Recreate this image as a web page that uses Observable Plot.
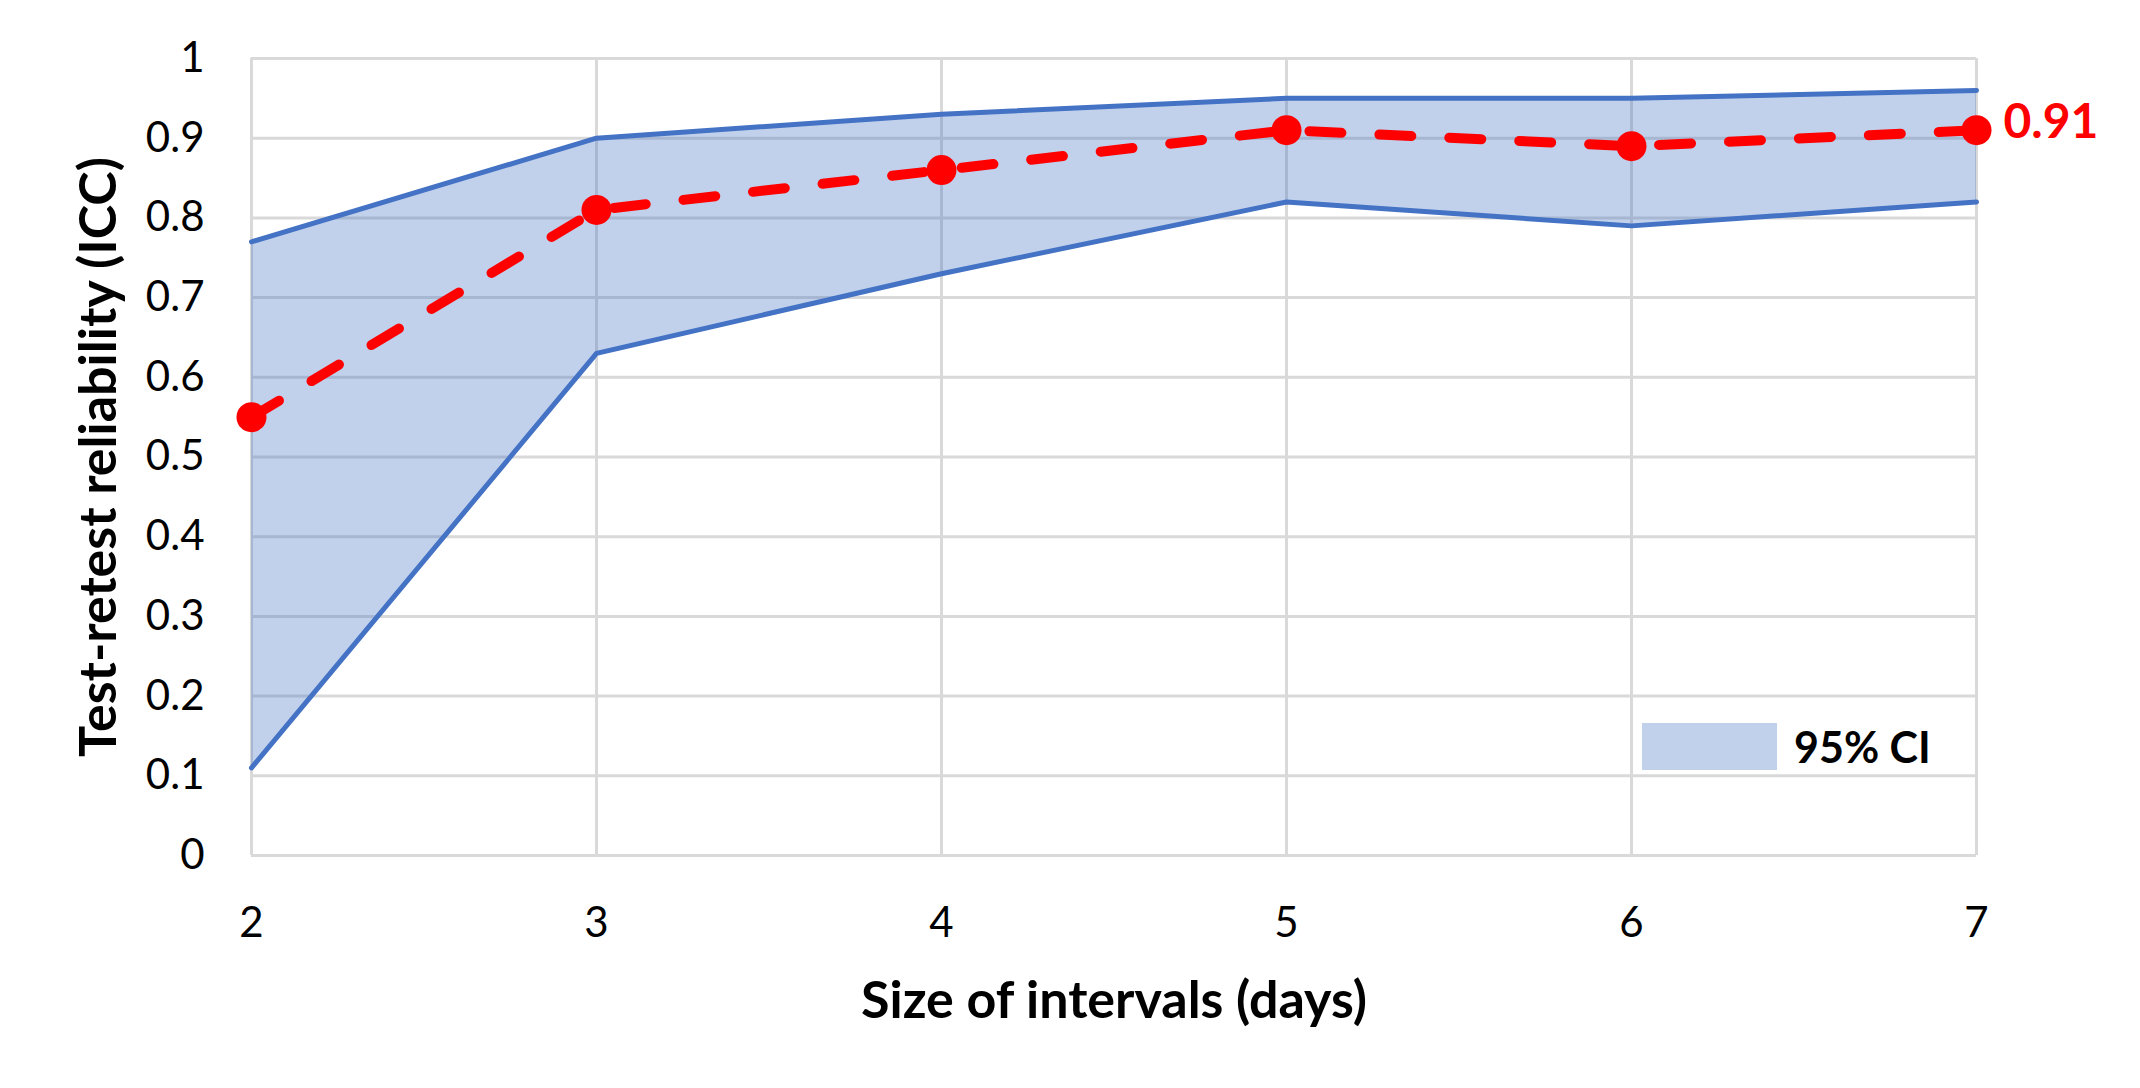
<!DOCTYPE html>
<html>
<head>
<meta charset="utf-8">
<script src="https://cdn.jsdelivr.net/npm/d3@7"></script>
<script src="https://cdn.jsdelivr.net/npm/@observablehq/plot@0.6"></script>
<style>
  html, body { margin: 0; padding: 0; background: #fff; }
  #wrap { position: relative; width: 2140px; height: 1088px; font-family: Lato, "Open Sans", sans-serif; }
  #legend { position: absolute; left: 1642px; top: 721px; display: flex; align-items: center; gap: 17px; }
  #legend .sw { width: 135px; height: 47px; background: #C1D0EB; }
  #legend .lb { font-weight: bold; font-size: 43px; color: #000; }
</style>
</head>
<body>
<div id="wrap"></div>
<script>
const days = [2, 3, 4, 5, 6, 7];
const icc = [0.55, 0.81, 0.86, 0.91, 0.89, 0.91];
const ciLower = [0.11, 0.63, 0.73, 0.82, 0.79, 0.82];
const ciUpper = [0.77, 0.90, 0.93, 0.95, 0.95, 0.96];
const yTicks = [0, 0.1, 0.2, 0.3, 0.4, 0.5, 0.6, 0.7, 0.8, 0.9, 1];
const yTickLabels = ["0", "0.1", "0.2", "0.3", "0.4", "0.5", "0.6", "0.7", "0.8", "0.9", "1"];
const xTickLabels = ["2", "3", "4", "5", "6", "7"];
const xTitle = "Size of intervals (days)";
const yTitle = "Test-retest reliability (ICC)";
const legendLabel = "95% CI";

const rows = days.map((d, i) => ({day: d, icc: icc[i], lo: ciLower[i], hi: ciUpper[i]}));
const last = rows[rows.length - 1];

const grid = "#d9d9d9";
const chart = Plot.plot({
  width: 2140,
  height: 1088,
  marginLeft: 251,
  marginRight: 164,
  marginTop: 58,
  marginBottom: 233,
  style: {fontFamily: "Lato, 'Open Sans', sans-serif", color: "#000", background: "#fff"},
  x: {domain: [2, 7]},
  y: {domain: [0, 1]},
  marks: [
    Plot.gridY(yTicks, {stroke: grid, strokeOpacity: 1, strokeWidth: 3}),
    Plot.gridX(days, {stroke: grid, strokeOpacity: 1, strokeWidth: 3}),
    Plot.areaY(rows, {x: "day", y1: "lo", y2: "hi", fill: "#4472C4", fillOpacity: 0.33}),
    Plot.line(rows, {x: "day", y: "hi", stroke: "#4472C4", strokeWidth: 5}),
    Plot.line(rows, {x: "day", y: "lo", stroke: "#4472C4", strokeWidth: 5}),
    Plot.line(rows, {x: "day", y: "icc", stroke: "#ff0000", strokeWidth: 10, strokeDasharray: "32,38", strokeLinecap: "round"}),
    Plot.dot(rows, {x: "day", y: "icc", r: 15, fill: "#ff0000"}),
    Plot.text([last], {x: "day", y: "icc", text: d => d3.format(".2f")(d.icc), dx: 27, dy: -8, textAnchor: "start", fill: "#ff0000", fontWeight: "bold", fontSize: 48}),
    Plot.axisY(yTicks, {tickSize: 0, tickPadding: 47, fontSize: 42, tickFormat: (d, i) => yTickLabels[i], label: null}),
    Plot.axisX(days, {tickSize: 0, tickPadding: 52, fontSize: 42, tickFormat: (d, i) => xTickLabels[i], label: null}),
    Plot.text([xTitle], {frameAnchor: "bottom", dy: 162, fontWeight: "bold", fontSize: 52, fill: "#000"}),
    Plot.text([yTitle], {frameAnchor: "left", dx: -152, rotate: -90, textAnchor: "middle", fontWeight: "bold", fontSize: 52, fill: "#000"})
  ]
});
const wrap = document.getElementById("wrap");
wrap.appendChild(chart);
const leg = document.createElement("div");
leg.id = "legend";
leg.innerHTML = `<div class="sw"></div><div class="lb">${legendLabel}</div>`;
wrap.appendChild(leg);
</script>
</body>
</html>
